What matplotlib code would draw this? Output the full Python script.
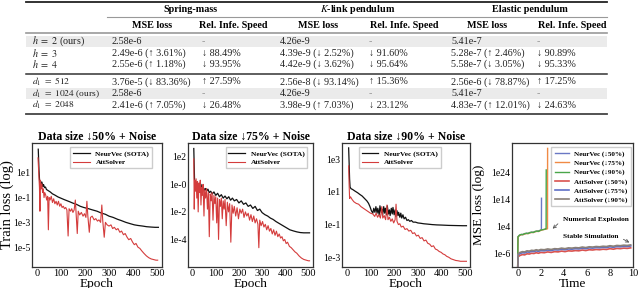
import matplotlib
matplotlib.use("Agg")
import matplotlib.pyplot as plt
import numpy as np
from matplotlib.patches import Rectangle
from matplotlib import ticker

plt.rcParams["font.family"] = ["Liberation Serif", "DejaVu Serif"]
plt.rcParams["mathtext.fontset"] = "stix"

# ---------------- table data ----------------
groups = ["Spring-mass", "$K$-link pendulum", "Elastic pendulum"]
col_heads = ["MSE loss", "Rel. Infe. Speed"] * 3
h_labels = ["$h\\ =\\ 2$ (ours)", "$h\\ =\\ 3$", "$h\\ =\\ 4$"]
h_cells = [
    ["2.58e-6", "-", "4.26e-9", "-", "5.41e-7", "-"],
    ["2.49e-6 (↑ 3.61%)", "↓ 88.49%", "4.39e-9 (↓ 2.52%)", "↓ 91.60%", "5.28e-7 (↑ 2.46%)", "↓ 90.89%"],
    ["2.55e-6 (↑ 1.18%)", "↓ 93.95%", "4.42e-9 (↓ 3.62%)", "↓ 95.64%", "5.58e-7 (↓ 3.05%)", "↓ 95.33%"],
]
d_labels = ["$d_1\\ =\\ 512$", "$d_1\\ =\\ 1024$ (ours)", "$d_1\\ =\\ 2048$"]
d_cells = [
    ["3.76e-5 (↓ 83.36%)", "↑ 27.59%", "2.56e-8 (↓ 93.14%)", "↑ 15.36%", "2.56e-6 (↓ 78.87%)", "↑ 17.25%"],
    ["2.58e-6", "-", "4.26e-9", "-", "5.41e-7", "-"],
    ["2.41e-6 (↑ 7.05%)", "↓ 26.48%", "3.98e-9 (↑ 7.03%)", "↓ 23.12%", "4.83e-7 (↑ 12.01%)", "↓ 24.63%"],
]

# ---------------- curve data: (epoch, log10 loss) ----------------
nv_50 = [(6, 2.9), (9, 1.2), (12, 0.2), (15, 0.35), (18, 0.05), (21, 0.25), (25, -0.1), (28, 0.05),
         (32, -0.2), (36, -0.15), (40, -0.35), (48, -0.45), (56, -0.55), (65, -0.7), (75, -0.8),
         (88, -0.95), (100, -1.05), (112, -1.15), (125, -1.25), (138, -1.35), (150, -1.45),
         (165, -1.55), (180, -1.7), (195, -1.8), (215, -1.9), (232, -2.0), (250, -2.1), (268, -2.25),
         (285, -2.35), (300, -2.5), (317, -2.6), (335, -2.75), (350, -2.85), (370, -3.0), (387, -3.1),
         (405, -3.2), (420, -3.25), (440, -3.3), (456, -3.35), (475, -3.38), (491, -3.4), (505, -3.4)]
att_50 = [(5, 2.2), (8, 1.0), (11, -0.2), (13, -2.1), (15, 0.4), (18, -0.3), (21, 0.1), (24, -0.6),
          (27, -0.3), (30, -1.0), (33, -0.6), (37, -0.8), (41, -1.2), (45, -0.9), (48, -3.6), (51, -1.0),
          (55, -1.2), (60, -0.9), (65, -1.4), (70, -1.1), (75, -1.5), (80, -1.3), (85, -1.6), (90, -1.3),
          (95, -1.7), (100, -1.5), (105, -1.8), (110, -1.7), (115, -1.9), (120, -1.8), (125, -2.0),
          (130, -4.1), (134, -1.9), (140, -2.1), (145, -1.9), (150, -2.2), (155, -2.0), (160, -1.2),
          (163, -2.2), (168, -3.9), (172, -2.1), (178, -2.4), (185, -2.2), (192, -2.5), (198, -2.3),
          (204, -2.6), (208, -1.3), (212, -2.5), (218, -3.8), (223, -2.6), (230, -2.5), (238, -2.8),
          (245, -2.7), (252, -2.9), (258, -2.8), (265, -3.0), (270, -1.6), (274, -2.9), (280, -4.2),
          (285, -3.0), (292, -3.2), (300, -3.3), (308, -3.2), (315, -3.5), (322, -3.4), (330, -3.6),
          (337, -3.5), (345, -3.8), (352, -3.7), (360, -4.0), (367, -3.9), (375, -4.2), (382, -4.4),
          (390, -4.3), (398, -4.6), (405, -4.8), (412, -4.7), (420, -5.0), (428, -5.1), (436, -5.3),
          (445, -5.5), (455, -5.7), (465, -5.85), (475, -5.95), (485, -6.0), (495, -6.05), (502, -6.05)]

nv_75 = [(5, 2.6), (8, 0.5), (10, -0.3), (13, 0.2), (16, -0.1), (20, 0.1), (24, -0.2), (28, 0.05),
         (32, -0.3), (36, 0.0), (40, -0.35), (45, -0.15), (50, -0.45), (55, -0.3), (60, -0.5),
         (66, -0.35), (72, -0.6), (78, -0.5), (85, -0.7), (92, -0.55), (100, -0.8), (108, -0.65),
         (116, -0.9), (124, -0.75), (132, -1.0), (140, -0.85), (148, -1.05), (156, -0.9), (164, -1.15),
         (172, -1.0), (180, -1.2), (190, -1.1), (200, -1.35), (210, -1.2), (220, -1.45), (230, -1.35),
         (240, -1.6), (250, -1.5), (260, -1.75), (270, -1.6), (280, -1.9), (290, -1.8), (300, -2.05),
         (312, -2.2), (324, -2.3), (336, -2.45), (348, -2.55), (360, -2.7), (375, -2.85), (390, -3.0),
         (405, -3.15), (420, -3.3), (435, -3.38), (450, -3.45), (465, -3.5), (480, -3.52), (505, -3.52)]
att_75 = [(5, 1.85), (7, -1.8), (9, 0.3), (12, -0.5), (15, 0.4), (18, -1.0), (21, 0.2), (24, -2.0),
          (27, 0.1), (30, -0.6), (33, 0.3), (36, -1.5), (39, -0.2), (42, -0.8), (45, 0.0), (49, -2.3),
          (52, -0.4), (56, -1.0), (60, -0.3), (64, -1.8), (68, -0.6), (72, -3.8), (76, -0.7), (80, -1.2),
          (84, -0.6), (88, -2.6), (92, -0.8), (96, -1.4), (100, -0.9), (104, -2.8), (108, -1.0),
          (112, -4.0), (116, -1.1), (120, -1.6), (124, -1.0), (128, -2.5), (132, -1.2), (136, -1.8),
          (140, -1.1), (145, -3.0), (150, -1.3), (155, -2.0), (160, -1.4), (165, -4.2), (170, -1.5),
          (175, -2.1), (180, -1.6), (186, -2.3), (192, -1.7), (198, -2.5), (204, -1.8), (210, -2.1),
          (216, -1.8), (222, -2.4), (228, -2.0), (234, -2.3), (240, -2.1), (246, -2.6), (252, -2.2),
          (258, -2.7), (264, -2.3), (270, -2.8), (276, -2.5), (282, -2.9), (286, -4.6), (290, -2.6),
          (296, -3.0), (302, -2.7), (308, -3.1), (314, -2.9), (320, -3.3), (326, -3.0), (332, -3.4),
          (338, -3.2), (344, -3.6), (350, -3.3), (356, -3.7), (362, -3.4), (368, -3.8), (374, -3.6),
          (380, -3.9), (386, -3.8), (392, -4.1), (398, -4.0), (404, -4.3), (410, -4.2), (418, -4.5),
          (426, -4.6), (434, -4.75), (442, -4.9), (450, -5.0), (460, -5.2), (470, -5.35), (480, -5.45),
          (490, -5.5), (500, -5.55), (505, -5.55)]

nv_90 = [(8, 3.7), (10, 2.8), (12, 1.8), (14, 1.3), (18, 1.2), (25, 1.15), (35, 1.05), (46, 0.95),
         (55, 0.85), (65, 0.75), (75, 0.6), (85, 0.45), (92, 0.3), (98, 0.1), (104, -0.15), (110, -0.3),
         (114, 0.0), (119, -0.25), (123, 0.1), (128, -0.3), (131, 0.0), (137, -0.4), (140, 0.15),
         (145, -0.25), (148, -0.05), (151, -0.45), (156, 0.1), (160, -0.3), (163, 0.0), (168, -0.4),
         (171, 0.15), (176, -0.35), (180, -0.1), (183, -0.45), (188, 0.0), (192, -0.35), (195, 0.05),
         (200, -0.4), (204, -0.1), (207, -0.5), (212, -0.15), (216, -0.45), (219, -0.25), (224, -0.55),
         (228, -0.3), (232, -0.6), (237, -0.4), (242, -0.65), (248, -0.55), (254, -0.75), (260, -0.7),
         (266, -0.8), (273, -0.75), (280, -0.85), (290, -0.85), (300, -0.9), (312, -0.92), (325, -0.95),
         (340, -0.97), (360, -1.0), (380, -1.02), (400, -1.03), (430, -1.05), (460, -1.06), (490, -1.07),
         (505, -1.07)]
att_90 = [(8, 2.6), (10, 1.5), (12, 0.6), (16, 0.7), (22, 0.55), (30, 0.4), (40, 0.3), (50, 0.25),
          (60, 0.1), (70, 0.0), (80, -0.1), (90, -0.2), (100, -0.3), (110, -0.35), (118, -0.5),
          (124, -0.3), (130, -0.55), (136, -0.4), (142, -0.6), (148, 0.1), (152, -0.6), (158, -0.45),
          (164, -0.7), (170, 0.2), (174, -0.7), (180, -0.55), (186, -0.8), (192, -0.65), (198, -0.9),
          (204, -0.7), (208, 0.25), (212, -0.8), (218, -1.0), (224, -0.95), (230, -1.15), (238, -1.1),
          (246, -1.3), (254, -1.25), (262, -1.4), (270, -1.35), (278, -1.55), (286, -1.5), (294, -1.7),
          (302, -1.65), (310, -1.85), (318, -1.8), (326, -2.0), (334, -1.95), (342, -2.15), (350, -2.2),
          (358, -2.35), (366, -2.3), (374, -2.5), (382, -2.55), (390, -2.65), (398, -2.7), (406, -2.8),
          (414, -2.85), (422, -2.95), (430, -3.0), (440, -3.1), (450, -3.15), (460, -3.2), (470, -3.22),
          (480, -3.25), (505, -3.25)]

# simulation (time, log10 MSE)
sim_nv50 = [(0.0, -6.0), (0.02, 0.2), (0.15, 0.8), (0.3, 1.0), (0.45, 1.1), (0.6, 1.3), (0.75, 1.5),
            (0.9, 1.5), (1.05, 1.7), (1.2, 1.9), (1.35, 1.9), (1.5, 2.1), (1.65, 2.3), (1.8, 2.4),
            (1.95, 2.6), (2.05, 2.8), (2.06, 14.5)]
sim_nv75 = [(0.0, -6.0), (0.02, 0.1), (0.15, 0.7), (0.3, 1.0), (0.45, 1.0), (0.6, 1.3), (0.75, 1.4),
            (0.9, 1.4), (1.05, 1.7), (1.2, 1.8), (1.35, 1.8), (1.5, 2.1), (1.65, 2.2), (1.8, 2.2),
            (1.95, 2.5), (2.1, 2.7), (2.25, 2.9), (2.4, 3.0), (2.5, 3.1), (2.58, 3.2), (2.59, 33.0)]
sim_nv90 = [(0.0, -6.0), (0.02, 0.2), (0.15, 0.8), (0.3, 1.1), (0.45, 1.0), (0.6, 1.4), (0.75, 1.5),
            (0.9, 1.4), (1.05, 1.8), (1.2, 1.9), (1.35, 1.8), (1.5, 2.2), (1.65, 2.3), (1.8, 2.2),
            (1.95, 2.6), (2.1, 2.8), (2.25, 2.9), (2.4, 3.1), (2.46, 3.2), (2.47, 25.0)]
sim_t = [0.0, 0.03, 0.2, 0.4, 0.6, 0.8, 1.0, 1.2, 1.4, 1.6, 1.8, 2.0, 2.3, 2.6, 2.9, 3.2, 3.5, 3.8,
         4.1, 4.4, 4.7, 5.0, 5.3, 5.6, 5.9, 6.2, 6.5, 6.8, 7.1, 7.4, 7.7, 8.0, 8.3, 8.6, 8.9, 9.2, 9.5, 9.8]
sim_att90 = [-11, -6.0, -5.6, -5.3, -5.4, -5.0, -5.1, -4.8, -4.9, -4.6, -4.8, -4.5, -4.6, -4.3, -4.5,
             -4.2, -4.3, -4.0, -4.2, -3.9, -4.0, -3.8, -3.9, -3.6, -3.8, -3.5, -3.6, -3.4, -3.5, -3.3,
             -3.4, -3.1, -3.3, -3.0, -3.1, -2.9, -3.0, -2.8]
sim_att75 = [-11, -6.5, -6.0, -5.7, -5.8, -5.4, -5.5, -5.2, -5.3, -5.0, -5.2, -4.9, -5.0, -4.7, -4.9,
             -4.6, -4.7, -4.4, -4.6, -4.3, -4.4, -4.2, -4.3, -4.0, -4.2, -3.9, -4.0, -3.8, -3.9, -3.7,
             -3.8, -3.5, -3.7, -3.4, -3.5, -3.3, -3.4, -3.2]
sim_att50 = [-11, -7.2, -6.7, -6.4, -6.5, -6.1, -6.2, -5.9, -6.0, -5.7, -5.9, -5.6, -5.7, -5.4, -5.6,
             -5.3, -5.4, -5.1, -5.3, -5.0, -5.1, -4.9, -5.0, -4.7, -4.9, -4.6, -4.7, -4.5, -4.6, -4.4,
             -4.5, -4.2, -4.4, -4.1, -4.2, -4.0, -4.1, -3.9]

titles = ["Data size ↓50% + Noise", "Data size ↓75% + Noise", "Data size ↓90% + Noise"]
epoch_ticks = [0, 100, 200, 300, 400, 500]
yticks_50 = [1e1, 1e-1, 1e-3, 1e-5]
ylabels_50 = ["1e1", "1e-1", "1e-3", "1e-5"]
yticks_75 = [1e2, 1e0, 1e-2, 1e-4]
ylabels_75 = ["1e2", "1e-0", "1e-2", "1e-4"]
yticks_90 = [1e3, 1e1, 1e-1, 1e-3]
ylabels_90 = ["1e3", "1e1", "1e-1", "1e-3"]
time_ticks = [0, 2, 4, 6, 8, 10]
yticks_sim = [1e24, 1e14, 1e4, 1e-6]
ylabels_sim = ["1e24", "1e14", "1e4", "1e-6"]

W, H = 640, 288
fig = plt.figure(figsize=(6.4, 2.88), dpi=100)

# ---------------- table ----------------
tab = fig.add_axes([0, 0, 1, 1])
tab.set_xlim(0, W)
tab.set_ylim(H, 0)
tab.axis("off")

tab.add_patch(Rectangle((26, 36), 581, 11, color="#ebebeb", lw=0))
tab.add_patch(Rectangle((26, 88), 581, 11, color="#ebebeb", lw=0))
tab.plot([26, 607], [1.5, 1.5], color="#222222", lw=1.3)
tab.plot([107, 607], [16.5, 16.5], color="#999999", lw=0.8)
tab.plot([26, 607], [33, 33], color="#999999", lw=1.2)
tab.plot([26, 607], [73.5, 73.5], color="#333333", lw=1.1)
tab.plot([26, 607], [114, 114], color="#444444", lw=1.3)

fs = 7.3
group_x = [191, 358, 530]
for g, x in zip(groups, group_x):
    tab.text(x, 9, g, ha="center", va="center", fontsize=fs, fontweight="bold")
head_x = [152, 233, 318, 404, 487, 572]
for c, x in zip(col_heads, head_x):
    tab.text(x, 25, c, ha="center", va="center", fontsize=fs, fontweight="bold")

cell_x = [112, 202, 280, 369, 451, 537]
for labels, cells, ys, lfs in [(h_labels, h_cells, [41.5, 53, 64.5], fs),
                               (d_labels, d_cells, [82, 93.5, 105], 6.8)]:
    for lab, row, y in zip(labels, cells, ys):
        tab.text(32, y, lab, ha="left", va="center", fontsize=lfs, color="#222222")
        for val, x in zip(row, cell_x):
            tab.text(x, y, val, ha="left", va="center", fontsize=fs,
                     color="#999999" if val == "-" else "#222222")


# ---------------- plots ----------------
def px_axes(left, right, top, bottom):
    return fig.add_axes([left / W, (H - bottom) / H, (right - left) / W, (bottom - top) / H])


def style(ax):
    for s in ax.spines.values():
        s.set_color("#333333")
        s.set_linewidth(0.9)
    ax.tick_params(which="both", length=0, pad=1.2, labelsize=7.5)
    ax.tick_params(axis="y", labelsize=7.0, pad=1.0)
    ax.yaxis.set_minor_locator(ticker.NullLocator())


def draw(ax, pts, **kw):
    x, y = zip(*pts)
    ax.plot(x, 10.0 ** np.array(y), **kw)


train_sets = [
    (nv_50, att_50, yticks_50, ylabels_50, (10 ** -6.6, 10 ** 3.4), (32, 162), (0.925, 0.965)),
    (nv_75, att_75, yticks_75, ylabels_75, (1e-6, 1e3), (188, 313), (0.955, 0.965)),
    (nv_90, att_90, yticks_90, ylabels_90, (10 ** -3.6, 10 ** 4.0), (342, 470), (0.77, 0.965)),
]
for i, (nv, att, yt, yl, ylim, (l, r), anchor) in enumerate(train_sets):
    ax = px_axes(l, r, 143, 267)
    ax.set_yscale("log")
    draw(ax, nv, color="#111111", lw=0.9, label="NeurVec (SOTA)")
    draw(ax, att, color="#d43c3c", lw=0.8, label="AttSolver")
    ax.set_xlim(-20, 520)
    ax.set_ylim(*ylim)
    ax.set_xticks(epoch_ticks)
    ax.set_yticks(yt, yl)
    style(ax)
    ax.set_title(titles[i], fontsize=8.5, fontweight="bold", pad=2.5)
    ax.set_xlabel("Epoch", fontsize=9.5, va="top")
    ax.xaxis.set_label_coords(0.5, -0.085)
    ax.legend(loc="upper right", bbox_to_anchor=anchor, borderaxespad=0,
              prop=dict(size=5.3, weight="bold"), handlelength=2.2, labelspacing=0.3,
              borderpad=0.4, fancybox=False, edgecolor="#cccccc", framealpha=1)
    if i == 0:
        ax.set_ylabel("Train loss (log)", fontsize=10.5)
        ax.yaxis.set_label_coords(-0.138, 0.5)

ax4 = px_axes(512, 633, 143, 267)
ax4.set_yscale("log")
draw(ax4, sim_nv50, color="#6a78c4", lw=1.0, label="NeurVec (↓50%)")
draw(ax4, sim_nv75, color="#f08a45", lw=1.0, label="NeurVec (↓75%)")
draw(ax4, sim_nv90, color="#4aa64a", lw=1.0, label="NeurVec (↓90%)")
ax4.plot(sim_t, 10.0 ** np.array(sim_att50), color="#d9534f", lw=1.2, label="AttSolver (↓50%)")
ax4.plot(sim_t, 10.0 ** np.array(sim_att75), color="#5f6fc6", lw=1.2, label="AttSolver (↓75%)")
ax4.plot(sim_t, 10.0 ** np.array(sim_att90), color="#8a8078", lw=1.2, label="AttSolver (↓90%)")
ax4.set_xlim(-0.5, 10.0)
ax4.set_ylim(1e-11, 1e35)
ax4.set_xticks(time_ticks)
ax4.set_yticks(yticks_sim, ylabels_sim)
style(ax4)
ax4.set_xlabel("Time", fontsize=9.5, va="top")
ax4.xaxis.set_label_coords(0.5, -0.085)
ax4.set_ylabel("MSE loss (log)", fontsize=9.5)
ax4.yaxis.set_label_coords(-0.22, 0.5)
ax4.legend(loc="upper right", bbox_to_anchor=(0.985, 0.965), borderaxespad=0,
           prop=dict(size=5.1, weight="bold"), handlelength=2.0, labelspacing=0.42,
           borderpad=0.45, fancybox=False, edgecolor="#cccccc", framealpha=1)
ax4.annotate("Numerical Explosion", xy=(2.85, 10 ** 2.5), xytext=(3.9, 10 ** 6.7),
             fontsize=5.3, fontweight="bold", ha="left", va="center",
             arrowprops=dict(arrowstyle="->", color="#555555", lw=0.6, relpos=(0, 0.5)))
ax4.annotate("Stable Simulation", xy=(9.9, 10 ** -2.4), xytext=(3.9, 10 ** 0.3),
             fontsize=5.3, fontweight="bold", ha="left", va="center",
             arrowprops=dict(arrowstyle="->", color="#555555", lw=0.6, relpos=(1, 0.5)))

fig.savefig("out.png", dpi=100)
